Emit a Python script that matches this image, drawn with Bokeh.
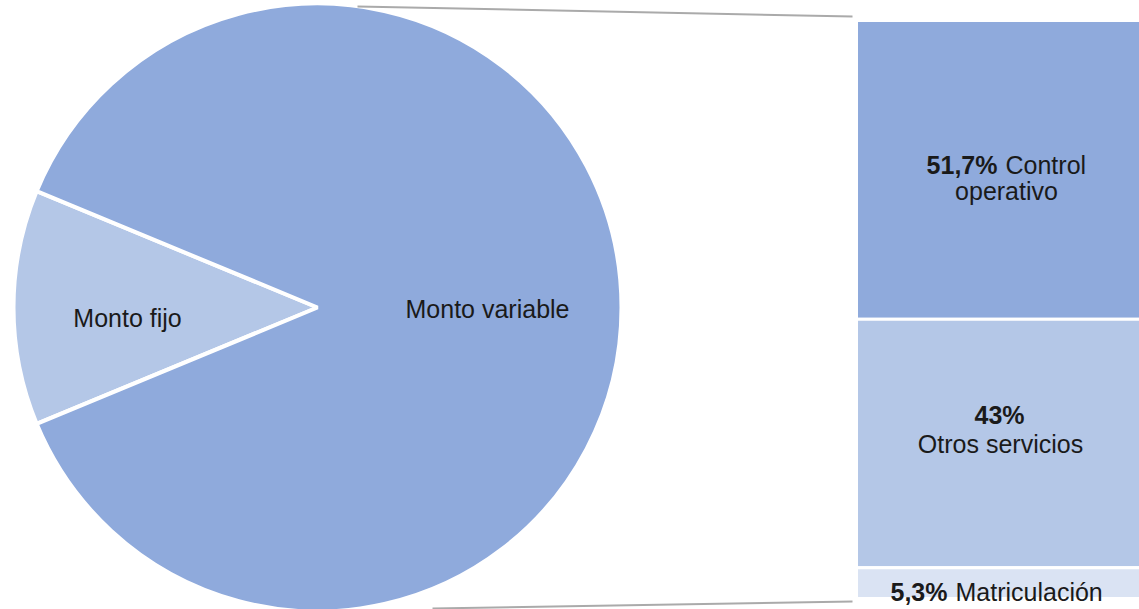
import math

from bokeh.core.properties import value
from bokeh.embed import file_html
from bokeh.models import ColumnDataSource, Range1d
from bokeh.plotting import figure
from bokeh.resources import INLINE

# Pie: fixed vs. variable amount (percent of total)
pie_labels = ["Monto fijo", "Monto variable"]
pie_values = [12.5, 87.5]
pie_colors = ["#B4C7E7", "#8FAADC"]

# Breakdown of the variable amount (percent)
bar_labels = ["Control operativo", "Otros servicios", "Matriculación"]
bar_values = [51.7, 43.0, 5.3]
bar_colors = ["#8FAADC", "#B4C7E7", "#DAE3F3"]

W, H = 1139, 609
FONT = value("Liberation Sans")
FS = "25px"


def fmt_pct(v):
    s = ("%.1f" % v).rstrip("0").rstrip(".")
    return s.replace(".", ",") + "%"


def py(y):
    # screen row -> data y (y axis points up)
    return H - y


p = figure(width=W, height=H, output_backend="svg", toolbar_location=None,
           x_range=Range1d(0, W), y_range=Range1d(0, H),
           min_border=0, outline_line_color=None)
p.axis.visible = False
p.grid.visible = False
p.background_fill_color = "white"
p.border_fill_color = "white"

# ---- pie ----
cx, cy, r = 317, py(307), 304
total = sum(pie_values)
half = math.pi * pie_values[0] / total  # fixed slice centred on the left
starts, ends = [], []
a0 = math.pi - half
for v in pie_values:
    a1 = a0 + 2 * math.pi * v / total
    starts.append(a0)
    ends.append(a1)
    a0 = a1
pie_src = ColumnDataSource(dict(start=starts, end=ends, color=pie_colors, label=pie_labels))
p.wedge(x=cx, y=cy, radius=r, start_angle="start", end_angle="end",
        fill_color="color", line_color="white", line_width=4, source=pie_src)

# pie labels
p.text(x=[127], y=[py(317)], text=[pie_labels[0]], text_align="center",
       text_baseline="alphabetic", text_font=FONT, text_font_size=FS, text_color="#1a1a1a")
p.text(x=[487], y=[py(308)], text=[pie_labels[1]], text_align="center",
       text_baseline="alphabetic", text_font=FONT, text_font_size=FS, text_color="#1a1a1a")

# ---- stacked bar ----
bx0, bx1 = 856, 1160
btop, bbot = py(20), py(598)
span = btop - bbot
tops, bots = [], []
cur = btop
for v in bar_values:
    nxt = cur - span * v / sum(bar_values)
    tops.append(cur)
    bots.append(nxt)
    cur = nxt
bar_src = ColumnDataSource(dict(top=tops, bottom=bots, color=bar_colors))
p.quad(left=bx0, right=bx1, top="top", bottom="bottom", fill_color="color",
       line_color="white", line_width=3, source=bar_src)

# connector lines between pie and bar
p.line(x=[357, bx0 - 4], y=[py(6), py(16)], line_color="#aaaaaa", line_width=2)
p.line(x=[432, bx0 - 4], y=[py(608), py(601)], line_color="#aaaaaa", line_width=2)

pct = [fmt_pct(v) for v in bar_values]
bold = dict(text_font=FONT, text_font_size=FS, text_font_style="bold",
            text_baseline="alphabetic", text_color="#1a1a1a")
norm = dict(text_font=FONT, text_font_size=FS, text_baseline="alphabetic",
            text_color="#1a1a1a")
GAP = 8  # width of the space between the bold percentage and the name

# Control operativo: "51,7% Control" / "operativo"
ctrl_first, ctrl_second = bar_labels[0].split(" ", 1)
p.text(x=[997], y=[py(164)], text=[pct[0]], text_align="right", **bold)
p.text(x=[997 + GAP], y=[py(164)], text=[ctrl_first], text_align="left", **norm)
p.text(x=[1006], y=[py(190)], text=[ctrl_second], text_align="center", **norm)

# Otros servicios: "43%" / "Otros servicios"
p.text(x=[999], y=[py(414)], text=[pct[1]], text_align="center", **bold)
p.text(x=[1000], y=[py(443)], text=[bar_labels[1]], text_align="center", **norm)

# Matriculación: "5,3% Matriculación"
p.text(x=[947], y=[py(591)], text=[pct[2]], text_align="right", **bold)
p.text(x=[947 + GAP], y=[py(591)], text=[bar_labels[2]], text_align="left", **norm)

open("out.html", "w").write(file_html(p, INLINE))
